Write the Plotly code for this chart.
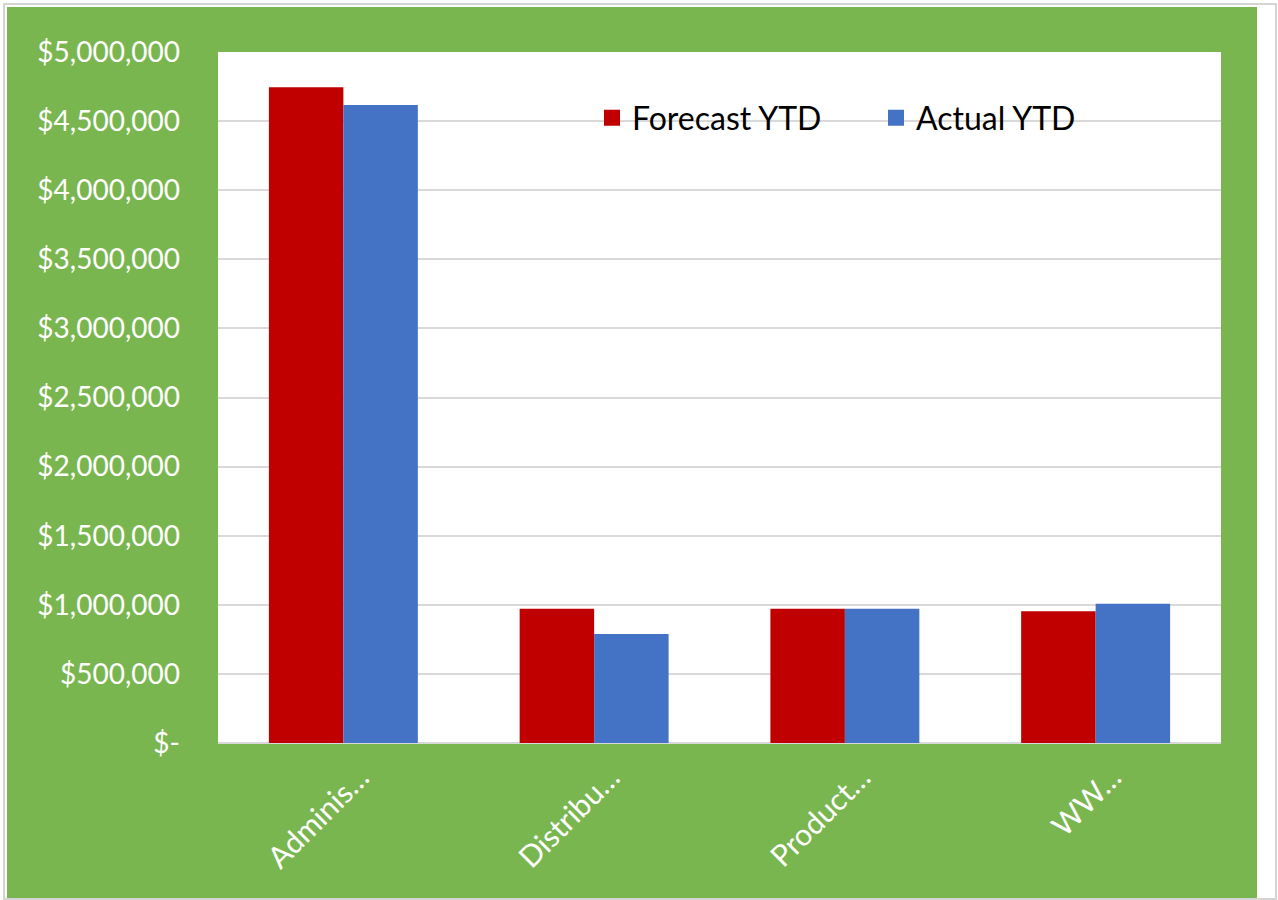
import plotly.graph_objects as go

categories = ["Adminis…", "Distribu…", "Product…", "WW…"]
forecast_ytd = [4745000, 971000, 971000, 954000]
actual_ytd = [4617000, 788000, 971000, 1007000]
tick_vals = [0, 500000, 1000000, 1500000, 2000000, 2500000, 3000000, 3500000, 4000000, 4500000, 5000000]
tick_text = ["$-", "$500,000", "$1,000,000", "$1,500,000", "$2,000,000", "$2,500,000",
             "$3,000,000", "$3,500,000", "$4,000,000", "$4,500,000", "$5,000,000"]

RED = "#C00000"
BLUE = "#4472C4"
GREEN = "#7AB64F"
FONT = "Lato"

W, H = 1278, 900
L, R, T, B = 218, 1221, 52, 743
pw, ph = R - L, B - T


def px(x):
    return (x - L) / pw


def py(y):
    return (B - y) / ph


fig = go.Figure()
fig.add_trace(go.Bar(x=categories, y=forecast_ytd, name="Forecast YTD",
                     marker=dict(color=RED, line=dict(width=0)), showlegend=False))
fig.add_trace(go.Bar(x=categories, y=actual_ytd, name="Actual YTD",
                     marker=dict(color=BLUE, line=dict(width=0)), showlegend=False))
# legend entries
fig.add_trace(go.Scatter(x=[None], y=[None], mode="markers", name="Forecast YTD",
                         marker=dict(symbol="square", size=19, color=RED)))
fig.add_trace(go.Scatter(x=[None], y=[None], mode="markers", name="Actual YTD",
                         marker=dict(symbol="square", size=19, color=BLUE)))

shapes = [
    # outer light border
    dict(type="rect", xref="paper", yref="paper", layer="below",
         x0=px(4), x1=px(1276), y0=py(899), y1=py(4),
         line=dict(color="#D4D4D4", width=2), fillcolor="white"),
    # green chart area
    dict(type="rect", xref="paper", yref="paper", layer="below",
         x0=px(7), x1=px(1257), y0=py(898), y1=py(7),
         line=dict(width=0), fillcolor=GREEN),
    # white plot area
    dict(type="rect", xref="paper", yref="paper", layer="below",
         x0=0, x1=1, y0=0, y1=1,
         line=dict(width=0), fillcolor="white"),
]

fig.update_layout(
    width=W, height=H,
    margin=dict(l=L, r=W - R, t=T, b=H - B, pad=0),
    paper_bgcolor="white",
    plot_bgcolor="rgba(0,0,0,0)",
    barmode="group",
    bargap=0.406,
    bargroupgap=0,
    shapes=shapes,
    font=dict(family=FONT, color="white", size=28),
    showlegend=True,
    legend=dict(orientation="h", x=px(592), y=py(118), xanchor="left", yanchor="middle",
                bgcolor="rgba(0,0,0,0)", font=dict(family=FONT, size=32, color="black"),
                entrywidth=239, entrywidthmode="pixels", itemclick=False),
    xaxis=dict(tickangle=-45, showgrid=False, showline=False, zeroline=False,
               tickfont=dict(family=FONT, size=30, color="white"),
               ticklabelstandoff=10, ticklabelshift=17, fixedrange=True),
    yaxis=dict(range=[0, 5000000], tickvals=tick_vals, ticktext=tick_text,
               showgrid=True, gridcolor="#D9D9D9", gridwidth=2,
               zeroline=True, zerolinecolor="#D9D9D9", zerolinewidth=2,
               showline=False, tickfont=dict(family=FONT, size=28, color="white"),
               ticklabelstandoff=37, fixedrange=True),
)

fig.write_html("out.html")
